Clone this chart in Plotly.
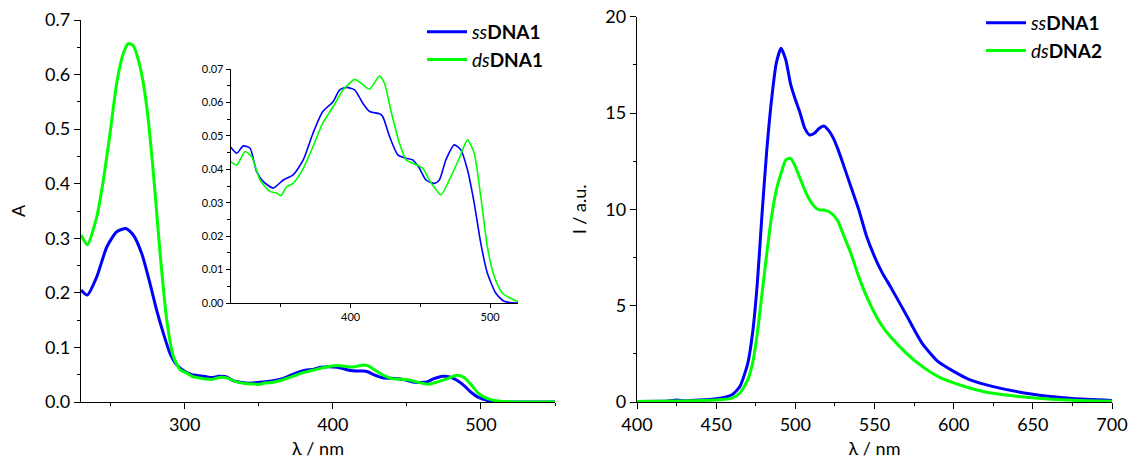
import plotly.graph_objects as go

# ---------------- Absorption (left panel + inset) ----------------
abs_ss_wl = [230, 234.3, 240.6, 247.4, 254.1, 260.4, 265.3, 271, 276.6, 281.1, 285.6, 290.1, 294.6, 300.2,
             305, 310, 314, 318.3, 323, 327.9, 332.6, 337.4, 344.5, 351.7, 358.8, 366, 373, 380, 387.4,
             392, 397, 403, 408.8, 413.6, 420.7, 423, 427.9, 433.8, 439.8, 444.5, 449.3, 454, 460, 463.6,
             468.3, 474.3, 479, 483.8, 488.6, 493.3, 498, 504, 510, 519.5, 530, 550]
abs_ss_val = [0.205, 0.196, 0.229, 0.284, 0.312, 0.318, 0.306, 0.272, 0.217, 0.168, 0.126, 0.089, 0.068, 0.056,
              0.050, 0.048, 0.0466, 0.0448, 0.047, 0.0463, 0.0393, 0.0363, 0.0344, 0.0368, 0.0383, 0.0428,
              0.0508, 0.0573, 0.0602, 0.0637, 0.0645, 0.0637, 0.0597, 0.0573, 0.0566, 0.0558, 0.0498, 0.0443,
              0.0433, 0.0428, 0.0403, 0.0368, 0.0358, 0.0368, 0.0428, 0.0473, 0.0458, 0.0398, 0.0299, 0.0179,
              0.0090, 0.0030, 0.0005, 0.0, 0.0, 0.0]

abs_ds_wl = [230, 234.3, 240.6, 245.1, 249.6, 254.1, 258.6, 262, 265.3, 269.9, 274.4, 278.9, 283.4, 287.9,
             292.4, 296.9, 301.4, 305, 310, 314, 318.3, 324.3, 329, 335, 342, 346.9, 350, 354, 358.8, 366,
             373, 380, 387.4, 394.5, 403, 407.6, 413.6, 420.7, 424.3, 429, 435, 439.8, 444.5, 451.7, 456.4,
             464.8, 470.7, 477.9, 483.8, 488.6, 493.3, 498, 502.9, 508.8, 519.5, 530, 550]
abs_ds_val = [0.306, 0.288, 0.339, 0.407, 0.492, 0.584, 0.639, 0.657, 0.653, 0.614, 0.541, 0.419, 0.272, 0.150,
              0.083, 0.059, 0.053, 0.047, 0.044, 0.0423, 0.0413, 0.0453, 0.0438, 0.0368, 0.0334, 0.0329,
              0.0321, 0.0347, 0.0358, 0.0403, 0.0468, 0.0538, 0.0587, 0.0637, 0.0669, 0.0657, 0.064, 0.0679,
              0.0657, 0.0573, 0.0478, 0.0428, 0.0418, 0.0403, 0.0368, 0.0324, 0.0368, 0.0433, 0.0488, 0.0448,
              0.0319, 0.0169, 0.0080, 0.0030, 0.0005, 0.0, 0.0]

# ---------------- Emission (right panel) ----------------
em_ss_wl = [400, 420, 425, 430, 450, 460, 465, 470, 473, 476, 479, 482, 485, 488, 491, 494, 497, 500, 503, 506,
            509, 512, 515, 518, 521, 524, 527, 530, 535, 540, 545, 550, 555, 560, 570, 580, 590, 600, 610,
            625, 650, 675, 700]
em_ss_val = [0.03, 0.05, 0.1, 0.06, 0.17, 0.38, 0.81, 2.02, 3.58, 6.17, 9.8, 13.1, 15.7, 17.6, 18.36, 17.75,
             16.5, 15.7, 15.0, 14.2, 13.86, 13.95, 14.2, 14.33, 14.1, 13.7, 13.1, 12.4, 11.2, 10.0, 8.6, 7.55,
             6.69, 6.0, 4.53, 3.06, 2.11, 1.59, 1.16, 0.8, 0.4, 0.18, 0.08]

em_ds_wl = [400, 425, 450, 460, 465, 470, 473, 476, 479, 482, 485, 488, 491, 494, 497, 500, 503, 506, 509, 512,
            515, 518, 521, 524, 527, 530, 535, 540, 545, 550, 555, 560, 570, 580, 590, 600, 610, 625, 650,
            675, 700]
em_ds_val = [0.02, 0.05, 0.1, 0.2, 0.47, 1.16, 2.02, 3.58, 5.65, 7.73, 9.63, 11.0, 11.87, 12.57, 12.65, 12.22,
             11.6, 11.0, 10.5, 10.15, 9.97, 9.97, 9.89, 9.71, 9.37, 8.76, 7.73, 6.52, 5.48, 4.62, 3.92, 3.4,
             2.54, 1.85, 1.33, 0.99, 0.73, 0.45, 0.22, 0.09, 0.04]

names_left = ["<i>ss</i><b>DNA1</b>", "<i>ds</i><b>DNA1</b>"]
names_right = ["<i>ss</i><b>DNA1</b>", "<i>ds</i><b>DNA2</b>"]

BLUE = "#0000ff"
GREEN = "#00ff00"
FONT = "Lato"

fig = go.Figure()

line_kw = dict(shape="spline", smoothing=0.6)

# Left main
fig.add_trace(go.Scatter(x=abs_ss_wl, y=abs_ss_val, mode="lines", line=dict(color=BLUE, width=3, **line_kw),
                         name=names_left[0], xaxis="x", yaxis="y", legend="legend"))
fig.add_trace(go.Scatter(x=abs_ds_wl, y=abs_ds_val, mode="lines", line=dict(color=GREEN, width=3, **line_kw),
                         name=names_left[1], xaxis="x", yaxis="y", legend="legend"))
# Inset
fig.add_trace(go.Scatter(x=abs_ss_wl, y=abs_ss_val, mode="lines", line=dict(color=BLUE, width=1.6, **line_kw),
                         showlegend=False, xaxis="x3", yaxis="y3"))
fig.add_trace(go.Scatter(x=abs_ds_wl, y=abs_ds_val, mode="lines", line=dict(color=GREEN, width=1.6, **line_kw),
                         showlegend=False, xaxis="x3", yaxis="y3"))
# Right
fig.add_trace(go.Scatter(x=em_ss_wl, y=em_ss_val, mode="lines", line=dict(color=BLUE, width=3, **line_kw),
                         name=names_right[0], xaxis="x2", yaxis="y2", legend="legend2"))
fig.add_trace(go.Scatter(x=em_ds_wl, y=em_ds_val, mode="lines", line=dict(color=GREEN, width=3, **line_kw),
                         name=names_right[1], xaxis="x2", yaxis="y2", legend="legend2"))

W, H = 1131, 465


def xd(a, b):
    return [a / W, b / W]


def yd(top, bottom):
    return [(H - bottom) / H, (H - top) / H]


def xp(a):
    return a / W


def yp(top):
    return 1 - top / H


ax_common = dict(showline=True, linecolor="black", linewidth=1.3, ticks="outside", ticklen=6,
                 tickwidth=1.3, tickcolor="black", showgrid=False, zeroline=False, mirror=False,
                 automargin=False,
                 tickfont=dict(family=FONT, size=18, color="black"))

minor_main = dict(ticks="outside", ticklen=3, tickwidth=1.3, tickcolor="black", showgrid=False)

fig.update_layout(
    template="none",
    width=W, height=H, margin=dict(l=0, r=0, t=0, b=0),
    paper_bgcolor="white", plot_bgcolor="white",
    font=dict(family=FONT, color="black"),
    xaxis=dict(ax_common, domain=xd(81, 555), anchor="y", range=[230, 550], dtick=100, tick0=0,
               minor=dict(minor_main, dtick=50),
               title=dict(text="λ / nm", font=dict(family=FONT, size=18), standoff=8)),
    yaxis=dict(ax_common, domain=yd(20, 402), anchor="x", range=[0, 0.7], dtick=0.1, tickformat=".1f",
               minor=dict(minor_main, dtick=0.05),
               title=dict(text="A", font=dict(family=FONT, size=18), standoff=14)),
    xaxis2=dict(ax_common, domain=xd(637, 1112), anchor="y2", range=[400, 700], dtick=50,
                minor=dict(minor_main, dtick=25),
                title=dict(text="λ / nm", font=dict(family=FONT, size=18), standoff=8)),
    yaxis2=dict(ax_common, domain=yd(16.7, 402), anchor="x2", range=[0, 20], dtick=5,
                minor=dict(minor_main, dtick=2.5),
                title=dict(text="I / a.u.", font=dict(family=FONT, size=18), standoff=14)),
    xaxis3=dict(ax_common, domain=xd(230.7, 518), anchor="y3", range=[314, 520], dtick=100, tick0=0,
                ticklen=4, tickwidth=1, linewidth=1,
                tickfont=dict(family=FONT, size=11, color="black"),
                minor=dict(ticks="outside", ticklen=2.5, tickwidth=1, tickcolor="black", dtick=50)),
    yaxis3=dict(ax_common, domain=yd(69, 303), anchor="x3", range=[0, 0.07], dtick=0.01, tickformat=".2f",
                ticklen=4, tickwidth=1, linewidth=1,
                tickfont=dict(family=FONT, size=11, color="black"),
                minor=dict(ticks="outside", ticklen=2.5, tickwidth=1, tickcolor="black", dtick=0.005)),
    legend=dict(x=xp(422), y=yp(13), xanchor="left", yanchor="top", bgcolor="rgba(0,0,0,0)",
                font=dict(family=FONT, size=19, color="black"), itemwidth=40, tracegroupgap=0),
    legend2=dict(x=xp(981), y=yp(4), xanchor="left", yanchor="top", bgcolor="rgba(0,0,0,0)",
                 font=dict(family=FONT, size=19, color="black"), itemwidth=40, tracegroupgap=0),
    showlegend=True,
)

fig.write_html(
    "out.html",
    config={"displayModeBar": False},
    post_script="document.body.style.margin='0';document.body.style.overflow='hidden';",
)
